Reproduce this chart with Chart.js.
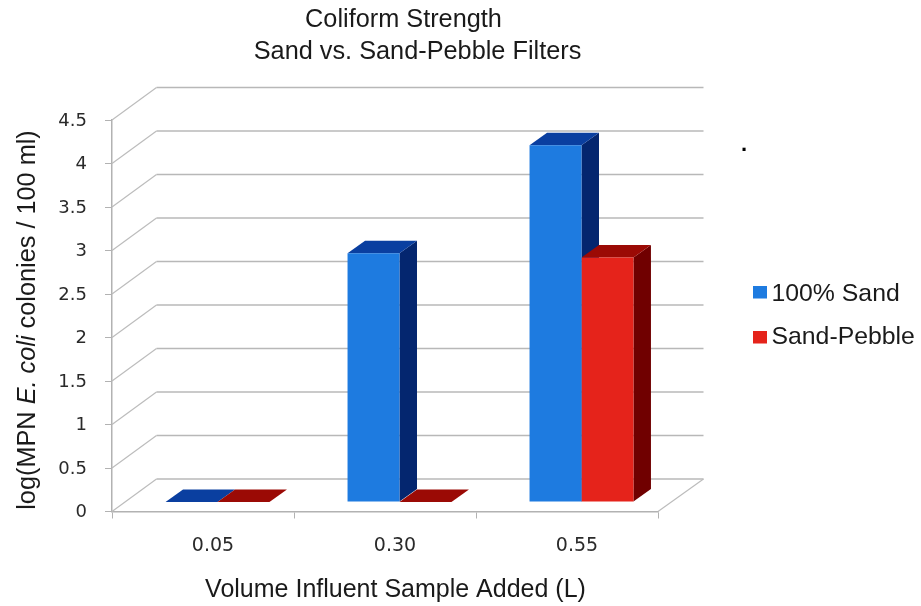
<!DOCTYPE html>
<html>
<head>
<meta charset="utf-8">
<title>Coliform Strength</title>
<style>
  html, body { margin: 0; padding: 0; background: #ffffff; }
  canvas { display: block; }
</style>
<script src="https://cdn.jsdelivr.net/npm/chart.js@4/dist/chart.umd.min.js"></script>
</head>
<body>
<canvas id="chart" width="921" height="606"></canvas>
<script>
// Sample volumes and log-MPN results for the two filter types
const categories = ['0.05', '0.30', '0.55'];
const sandValues = [0, 2.86, 4.1];
const pebbleValues = [0, 0, 2.81];
const seriesNames = ['100% Sand', 'Sand-Pebble'];
const frontColors = ['#1e7be0', '#e5231b'];
const topColors = ['#0a3fa0', '#9b0a05'];
const sideColors = ['#04266f', '#700000'];

const TITLE_FONT = '"Liberation Sans", Arial, sans-serif';
const WALL = { dx: 44.5, dy: -32.5 };     // floor depth of the 3D box
const BAR_SHIFT = { dx: 14.5, dy: -9.5 }; // bars stand part way back on the floor
const BAR_DEPTH = { dx: 17.5, dy: -12.5 };

const box3d = {
  id: 'box3d',
  beforeDatasetsDraw(chart) {
    const { ctx, chartArea: area, scales: { y } } = chart;
    ctx.save();
    // side and back walls with their grid lines
    y.ticks.forEach(t => {
      const py = y.getPixelForValue(t.value);
      ctx.beginPath();
      ctx.moveTo(area.left, py);
      ctx.lineTo(area.left + WALL.dx, py + WALL.dy);
      ctx.strokeStyle = '#bcbcbc';
      ctx.lineWidth = 1.2;
      ctx.stroke();
      ctx.beginPath();
      ctx.moveTo(area.left + WALL.dx, py + WALL.dy);
      ctx.lineTo(area.right + WALL.dx + 1, py + WALL.dy);
      ctx.strokeStyle = '#b8b8b8';
      ctx.lineWidth = 1.5;
      ctx.stroke();
    });
    // right edge of the floor
    ctx.beginPath();
    ctx.moveTo(area.right, area.bottom);
    ctx.lineTo(area.right + WALL.dx + 1, area.bottom + WALL.dy);
    ctx.strokeStyle = '#bcbcbc';
    ctx.lineWidth = 1.2;
    ctx.stroke();

    // everything in the dataset pass is shifted back onto the floor
    ctx.translate(BAR_SHIFT.dx, BAR_SHIFT.dy);
    chart.data.datasets.forEach((ds, i) => {
      chart.getDatasetMeta(i).data.forEach(bar => {
        const l = bar.x - bar.width / 2, r = bar.x + bar.width / 2;
        const top = bar.y, base = bar.base;
        ctx.fillStyle = sideColors[i];
        ctx.beginPath();
        ctx.moveTo(r, base);
        ctx.lineTo(r + BAR_DEPTH.dx, base + BAR_DEPTH.dy);
        ctx.lineTo(r + BAR_DEPTH.dx, top + BAR_DEPTH.dy);
        ctx.lineTo(r, top);
        ctx.closePath();
        ctx.fill();
        ctx.fillStyle = topColors[i];
        ctx.beginPath();
        ctx.moveTo(l, top);
        ctx.lineTo(l + BAR_DEPTH.dx, top + BAR_DEPTH.dy);
        ctx.lineTo(r + BAR_DEPTH.dx, top + BAR_DEPTH.dy);
        ctx.lineTo(r, top);
        ctx.closePath();
        ctx.fill();
      });
    });
  },
  afterDatasetsDraw(chart) {
    chart.ctx.restore();
  }
};

// Draws a run of mixed roman and italic text centred on the current origin
function drawRuns(ctx, runs, size) {
  const fontFor = r => (r.italic ? 'italic ' : '') + size + 'px ' + TITLE_FONT;
  let total = 0;
  runs.forEach(r => { ctx.font = fontFor(r); total += ctx.measureText(r.text).width; });
  let x = -total / 2;
  ctx.textAlign = 'left';
  runs.forEach(r => {
    ctx.font = fontFor(r);
    ctx.fillText(r.text, x, 0);
    x += ctx.measureText(r.text).width;
  });
}

const annotations = {
  id: 'annotations',
  afterDraw(chart) {
    const { ctx } = chart;
    ctx.save();
    ctx.fillStyle = '#1a1a1a';
    ctx.textBaseline = 'alphabetic';
    ctx.textAlign = 'center';

    ctx.font = '25.3px ' + TITLE_FONT;
    ctx.fillText('Coliform Strength', 403.5, 27);
    ctx.fillText('Sand vs. Sand-Pebble Filters', 417.5, 59);
    ctx.font = '25px ' + TITLE_FONT;
    ctx.fillText('Volume Influent Sample Added (L)', 395.5, 596.5);

    ctx.fillStyle = '#000000';
    ctx.font = 'bold 22px ' + TITLE_FONT;
    ctx.fillText('.', 744, 151);
    ctx.fillStyle = '#1a1a1a';

    // vertical axis title with the organism name set in italics
    ctx.save();
    ctx.translate(34.5, 320);
    ctx.rotate(-Math.PI / 2);
    drawRuns(ctx, [
      { text: 'log(MPN ' },
      { text: 'E. coli', italic: true },
      { text: ' colonies / 100 ml)' }
    ], 25.3);
    ctx.restore();

    // legend sits well clear of the 3D box
    const rows = [{ box: 286, base: 301 }, { box: 331, base: 343.5 }];
    ctx.textAlign = 'left';
    ctx.font = '24.8px ' + TITLE_FONT;
    chart.data.datasets.forEach((ds, i) => {
      ctx.fillStyle = ds.backgroundColor;
      ctx.fillRect(753, rows[i].box, 14, 12.5);
      ctx.fillStyle = '#1a1a1a';
      ctx.fillText(ds.label, 771.5, rows[i].base);
    });
    ctx.restore();
  }
};

new Chart(document.getElementById('chart'), {
  type: 'bar',
  data: {
    labels: categories,
    datasets: [
      { label: seriesNames[0], data: sandValues, backgroundColor: frontColors[0], clip: false },
      { label: seriesNames[1], data: pebbleValues, backgroundColor: frontColors[1], clip: false }
    ]
  },
  options: {
    responsive: false,
    animation: false,
    layout: { padding: { top: 120, right: 263, left: 0, bottom: 0 } },
    datasets: { bar: { categoryPercentage: 0.571, barPercentage: 1, borderWidth: 0 } },
    plugins: {
      legend: { display: false },
      title: { display: false },
      tooltip: { enabled: false }
    },
    scales: {
      x: {
        afterFit(scale) { scale.height = 94.5; },
        grid: { drawOnChartArea: false, offset: true, tickLength: 7, tickColor: '#b2b2b2' },
        border: { color: '#b2b2b2', width: 1.5 },
        ticks: {
          color: '#2a2a2a',
          padding: 16,
          labelOffset: 10,
          maxRotation: 0,
          font: { family: '"DejaVu Sans"', size: 19 }
        }
      },
      y: {
        min: 0,
        max: 4.5,
        afterFit(scale) { scale.width = 112; },
        grid: { drawOnChartArea: false, tickLength: 7, tickColor: '#b2b2b2' },
        border: { color: '#b2b2b2', width: 1.5 },
        ticks: {
          stepSize: 0.5,
          color: '#2a2a2a',
          padding: 18,
          labelOffset: 1,
          callback: value => String(value),
          font: { family: '"DejaVu Sans"', size: 18 }
        }
      }
    }
  },
  plugins: [box3d, annotations]
});
</script>
</body>
</html>
